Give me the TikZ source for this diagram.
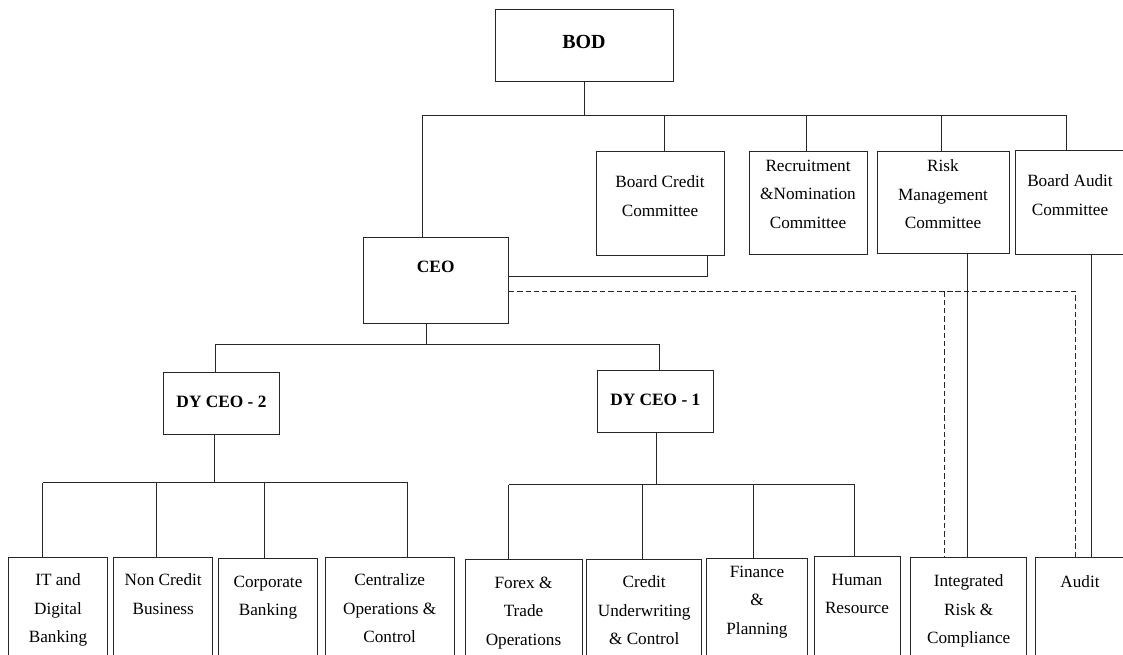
\documentclass[tikz,border=0pt]{standalone}
\usepackage{fontspec}
\setmainfont{Liberation Serif}
\usetikzlibrary{fit}

\begin{document}
\begin{tikzpicture}[
  x=0.75pt, y=-0.75pt,
  line/.style={draw=black!85, line width=0.8pt},
  box/.style={line, rectangle, inner sep=0pt},
  lbl/.style={inner sep=0pt, align=center, anchor=north,
              font=\fontsize{12.9}{21.4}\selectfont},
  head/.style={inner sep=0pt, font=\fontsize{13}{15}\selectfont\bfseries},
  link/.style={line},
  dotted link/.style={line, dash pattern=on 4pt off 2.2pt}
]
\useasboundingbox (0,0) rectangle (1123,655);
\fill[white] (0,0) rectangle (1123,655);
\clip (0,0) rectangle (1123,655);

% ---- board and its committees ----
\node[box, fit={(495.5,9.5) (673.5,81.5)}] (bod) {};
\node[head, font=\fontsize{15}{18}\selectfont\bfseries] (bodt) at (584,41.7) {BOD};

\node[box, fit={(596.5,151.5) (724.5,255.5)}] (bcc) {};
\node[lbl] (bcct) at (660,175.5) {Board Credit\\Committee};

\node[box, fit={(749.5,151.5) (867.5,254.5)}] (rnc) {};
\node[lbl] (rnct) at (808,159.5) {Recruitment\\\&Nomination\\Committee};

\node[box, fit={(877.5,151.5) (1009.5,253.5)}] (rmc) {};
\node[lbl] (rmct) at (943,159.5) {Risk\\Management\\Committee};

\node[box, fit={(1015.5,150.5) (1125,254.5)}] (bac) {};
\node[lbl] (bact) at (1070,174.5) {Board Audit\\Committee};

% ---- executive level ----
\node[box, fit={(363.5,237.5) (508.5,323.5)}] (ceo) {};
\node[head] (ceot) at (435.7,266.7) {CEO};

\node[box, fit={(163.5,372.5) (279.5,434.5)}] (dy2) {};
\node[head] (dy2t) at (221.5,402.3) {DY CEO - 2};

\node[box, fit={(597.5,370.5) (713.5,432.5)}] (dy1) {};
\node[head] (dy1t) at (655.3,400) {DY CEO - 1};

% ---- departments (boxes run past the lower edge) ----
\node[box, fit={(8.5,557.5) (107.5,670)}] (itb) {};
\node[lbl] (itbt) at (58,573.5) {IT and\\Digital\\Banking};

\node[box, fit={(113.5,557.5) (212.5,670)}] (ncb) {};
\node[lbl] (ncbt) at (163.2,573.5) {Non Credit\\Business};

\node[box, fit={(218.5,558.5) (317.5,670)}] (cpb) {};
\node[lbl] (cpbt) at (268,575.5) {Corporate\\Banking};

\node[box, fit={(325.5,557.5) (454.5,670)}] (coc) {};
\node[lbl] (coct) at (389.7,573.5) {Centralize\\Operations \&\\Control};

\node[box, fit={(465.5,559.5) (582.5,670)}] (fto) {};
\node[lbl] (ftot) at (523.5,576.5) {Forex \&\\Trade\\Operations};

\node[box, fit={(586.5,559.5) (701.5,670)}] (cuc) {};
\node[lbl] (cuct) at (644.2,575.5) {Credit\\Underwriting\\\& Control};

\node[box, fit={(706.5,558.5) (807.5,670)}] (fnp) {};
\node[lbl] (fnpt) at (757,565.5) {Finance\\\&\\Planning};

\node[box, fit={(814.5,556.5) (900.5,670)}] (hrs) {};
\node[lbl] (hrst) at (857,573.5) {Human\\Resource};

\node[box, fit={(910.5,557.5) (1026.5,670)}] (irc) {};
\node[lbl] (irct) at (968.7,574.5) {Integrated\\Risk \&\\Compliance};

\node[box, fit={(1035.5,557.5) (1125,670)}] (aud) {};
\node[lbl] (audt) at (1080,575.5) {Audit};

% ---- board bus ----
\coordinate (tL) at (422.5,115.5);
\coordinate (tR) at (1066.5,115.5);
\coordinate (sBcc) at (664.5,115.5);
\coordinate (sRnc) at (806.5,115.5);
\coordinate (sRmc) at (941.5,115.5);
\draw[link] (bod.south) -- (bod.south |- tL);
\draw[link] (tL) -- (tR);
\draw[link] (tL) -- (tL |- ceo.north);
\draw[link] (sBcc) -- (sBcc |- bcc.north);
\draw[link] (sRnc) -- (sRnc |- rnc.north);
\draw[link] (sRmc) -- (sRmc |- rmc.north);
\draw[link] (tR) -- (tR |- bac.north);

% credit committee back to CEO
\coordinate (bcX) at (707.5,276.5);
\draw[link] (bcX |- bcc.south) -- (bcX) -- (bcX -| ceo.east);

% dotted reporting lines from CEO
\coordinate (dA) at (944.5,291.5);
\coordinate (dB) at (1075.5,291.5);
\draw[dotted link] (ceo.east |- dB) -- (dB) -- (dB |- aud.north);
\draw[dotted link] (dA) -- (dA |- irc.north);

% committee lines down to their units
\coordinate (rX) at (967.5,300);
\coordinate (aX) at (1091.5,300);
\draw[link] (rX |- rmc.south) -- (rX |- irc.north);
\draw[link] (aX |- bac.south) -- (aX |- aud.north);

% CEO to deputies
\coordinate (cX) at (426.5,344.5);
\coordinate (cL) at (215.5,344.5);
\coordinate (cR) at (659.5,344.5);
\draw[link] (cX |- ceo.south) -- (cX);
\draw[link] (cL) -- (cR);
\draw[link] (cL) -- (cL |- dy2.north);
\draw[link] (cR) -- (cR |- dy1.north);

% DY CEO - 2 departments
\coordinate (d2) at (214.5,482.5);
\coordinate (d2a) at (42.5,482.5);
\coordinate (d2b) at (156.5,482.5);
\coordinate (d2c) at (264.5,482.5);
\coordinate (d2d) at (407.5,482.5);
\draw[link] (d2 |- dy2.south) -- (d2);
\draw[link] (d2a) -- (d2d);
\draw[link] (d2a) -- (d2a |- itb.north);
\draw[link] (d2b) -- (d2b |- ncb.north);
\draw[link] (d2c) -- (d2c |- cpb.north);
\draw[link] (d2d) -- (d2d |- coc.north);

% DY CEO - 1 departments
\coordinate (d1) at (656.5,484.5);
\coordinate (d1a) at (508.5,484.5);
\coordinate (d1b) at (642.5,484.5);
\coordinate (d1c) at (753.5,484.5);
\coordinate (d1d) at (854.5,484.5);
\draw[link] (d1 |- dy1.south) -- (d1);
\draw[link] (d1a) -- (d1d);
\draw[link] (d1a) -- (d1a |- fto.north);
\draw[link] (d1b) -- (d1b |- cuc.north);
\draw[link] (d1c) -- (d1c |- fnp.north);
\draw[link] (d1d) -- (d1d |- hrs.north);
\end{tikzpicture}
\end{document}
